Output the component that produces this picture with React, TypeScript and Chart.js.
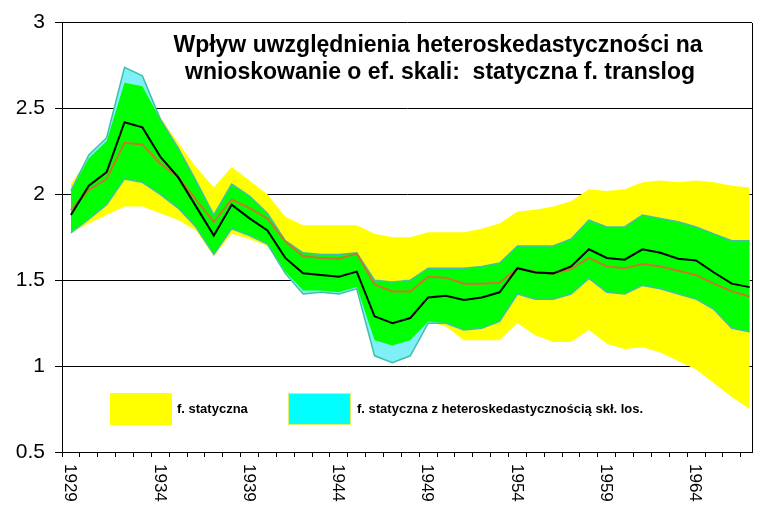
import React, { useEffect, useRef } from 'react';
import { Chart, registerables } from 'chart.js';

Chart.register(...registerables);

const years = [
  1929, 1930, 1931, 1932, 1933, 1934, 1935, 1936, 1937, 1938,
  1939, 1940, 1941, 1942, 1943, 1944, 1945, 1946, 1947, 1948,
  1949, 1950, 1951, 1952, 1953, 1954, 1955, 1956, 1957, 1958,
  1959, 1960, 1961, 1962, 1963, 1964, 1965, 1966, 1967,
];

// f. statyczna — interval bounds
const yellowUpper = [
  2.06, 2.21, 2.31, 2.65, 2.63, 2.45, 2.30, 2.16, 2.04, 2.16,
  2.08, 2.00, 1.87, 1.82, 1.82, 1.82, 1.82, 1.77, 1.75, 1.75,
  1.78, 1.78, 1.78, 1.80, 1.83, 1.90, 1.91, 1.93, 1.96, 2.03,
  2.02, 2.03, 2.07, 2.08, 2.07, 2.08, 2.07, 2.05, 2.04,
];
const yellowLower = [
  1.78, 1.83, 1.88, 1.93, 1.93, 1.89, 1.85, 1.79, 1.64, 1.77,
  1.74, 1.70, 1.55, 1.44, 1.44, 1.43, 1.46, 1.15, 1.12, 1.15,
  1.26, 1.23, 1.15, 1.15, 1.15, 1.25, 1.18, 1.14, 1.14, 1.21,
  1.13, 1.10, 1.11, 1.08, 1.03, 0.98, 0.90, 0.82, 0.75,
];

// f. statyczna z heteroskedastycznością — interval bounds
const cyanUpper = [
  2.02, 2.23, 2.33, 2.74, 2.69, 2.44, 2.27, 2.08, 1.88, 2.06,
  1.99, 1.89, 1.73, 1.66, 1.65, 1.65, 1.66, 1.50, 1.49, 1.50,
  1.57, 1.57, 1.57, 1.58, 1.60, 1.70, 1.70, 1.70, 1.74, 1.85,
  1.81, 1.81, 1.88, 1.86, 1.84, 1.81, 1.77, 1.73, 1.73,
];
const cyanLower = [
  1.775, 1.855, 1.94, 2.09, 2.07, 2.00, 1.92, 1.81, 1.65, 1.80,
  1.76, 1.71, 1.54, 1.42, 1.43, 1.42, 1.45, 1.06, 1.02, 1.06,
  1.25, 1.25, 1.21, 1.22, 1.26, 1.42, 1.39, 1.39, 1.42, 1.51,
  1.43, 1.42, 1.47, 1.45, 1.42, 1.39, 1.33, 1.22, 1.20,
];

// point estimates
const blackLine = [
  1.88, 2.05, 2.13, 2.42, 2.39, 2.22, 2.10, 1.93, 1.76, 1.94,
  1.86, 1.79, 1.63, 1.54, 1.53, 1.52, 1.55, 1.29, 1.25, 1.28,
  1.40, 1.41, 1.385, 1.40, 1.43, 1.57, 1.545, 1.54, 1.58, 1.68,
  1.63, 1.62, 1.68, 1.66, 1.625, 1.615, 1.545, 1.48, 1.46,
];
const orangeLine = [
  1.91, 2.025, 2.09, 2.30, 2.29, 2.18, 2.10, 1.97, 1.84, 1.97,
  1.92, 1.86, 1.725, 1.64, 1.63, 1.625, 1.655, 1.475, 1.435, 1.435,
  1.52, 1.515, 1.48, 1.48, 1.485, 1.57, 1.55, 1.54, 1.565, 1.63,
  1.58, 1.57, 1.595, 1.58, 1.555, 1.53, 1.48, 1.435, 1.405,
];

const xTickLabels = ['1929', '1934', '1939', '1944', '1949', '1954', '1959', '1964'];
const titleLines = [
  'Wpływ uwzględnienia heteroskedastyczności na',
  'wnioskowanie o ef. skali:  statyczna f. translog',
];
const legendLabels = ['f. statyczna', 'f. statyczna z heteroskedastycznością skł. los.'];

const FONT = 'Arial, "Liberation Sans", sans-serif';
const YELLOW = '#FFFF00';
const CYAN_FILL = '#80F0F8';
const CYAN_LEGEND = '#00FFFF';
const GREEN = '#00FF00';
const TEAL = '#40C0A8';

const pts = (arr: number[]) => years.map((yr, i) => ({ x: yr, y: arr[i] }));

const overlayPlugin = {
  id: 'overlay',
  afterDraw(chart: any) {
    const { ctx, chartArea, scales } = chart;
    ctx.save();
    // right border of plot
    ctx.strokeStyle = '#000';
    ctx.lineWidth = 1;
    const rx = Math.round(chartArea.right) + 0.5;
    ctx.beginPath();
    ctx.moveTo(rx, Math.round(chartArea.top));
    ctx.lineTo(rx, Math.round(chartArea.bottom) + 1);
    ctx.stroke();

    // x labels rotated clockwise
    ctx.fillStyle = '#000';
    ctx.font = `17px ${FONT}`;
    ctx.textAlign = 'left';
    ctx.textBaseline = 'middle';
    xTickLabels.forEach((lbl) => {
      const px = scales.x.getPixelForValue(Number(lbl)) - 1;
      ctx.save();
      ctx.translate(px, chartArea.bottom + 12);
      ctx.rotate(Math.PI / 2);
      ctx.fillText(lbl, 0, 0);
      ctx.restore();
    });

    // title
    ctx.font = `bold 23px ${FONT}`;
    ctx.textAlign = 'center';
    ctx.textBaseline = 'alphabetic';
    ctx.fillText(titleLines[0], 438, 52);
    ctx.fillText(titleLines[1], 440, 79);

    // legend
    ctx.fillStyle = YELLOW;
    ctx.fillRect(110, 393, 62, 32);
    ctx.fillStyle = CYAN_LEGEND;
    ctx.fillRect(289, 394, 61, 30);
    ctx.strokeStyle = '#E0F060';
    ctx.lineWidth = 1;
    ctx.strokeRect(288.5, 393.5, 62, 31);
    ctx.fillStyle = '#000';
    ctx.font = `bold 13px ${FONT}`;
    ctx.textAlign = 'left';
    ctx.textBaseline = 'middle';
    ctx.fillText(legendLabels[0], 177, 409);
    ctx.fillText(legendLabels[1], 357, 409);
    ctx.restore();
  },
};

export default function App() {
  const ref = useRef<HTMLCanvasElement | null>(null);

  useEffect(() => {
    if (!ref.current) return;
    const overlapUpper = years.map((_, i) => Math.min(yellowUpper[i], cyanUpper[i]));
    const overlapLower = years.map((_, i) => Math.max(yellowLower[i], cyanLower[i]));
    const hidden = { borderWidth: 0, borderColor: 'rgba(0,0,0,0)', pointRadius: 0 };

    const chart = new Chart(ref.current, {
      type: 'line',
      data: {
        datasets: [
          { data: pts(blackLine), borderColor: '#000000', borderWidth: 2, pointRadius: 0, fill: false },
          { data: pts(orangeLine), borderColor: '#C8782A', borderWidth: 2, pointRadius: 0, fill: false },
          { data: pts(cyanUpper), borderColor: TEAL, borderWidth: 1.5, pointRadius: 0, fill: false },
          { data: pts(cyanLower), borderColor: TEAL, borderWidth: 1.5, pointRadius: 0, fill: false },
          { data: pts(overlapUpper), ...hidden, fill: { target: 5 }, backgroundColor: GREEN },
          { data: pts(overlapLower), ...hidden, fill: false },
          { data: pts(cyanUpper), ...hidden, fill: { target: 7 }, backgroundColor: CYAN_FILL },
          { data: pts(cyanLower), ...hidden, fill: false },
          { data: pts(yellowUpper), ...hidden, fill: { target: 9 }, backgroundColor: YELLOW },
          { data: pts(yellowLower), ...hidden, fill: false },
        ] as any,
      },
      options: {
        responsive: false,
        animation: false,
        layout: { padding: { top: 22, right: 13, left: 0, bottom: 0 } },
        elements: { line: { tension: 0 }, point: { radius: 0 } },
        plugins: {
          legend: { display: false },
          tooltip: { enabled: false },
          title: { display: false },
          filler: { drawTime: 'beforeDatasetDraw' },
        } as any,
        scales: {
          x: {
            type: 'linear',
            min: 1928.5,
            max: 1967.13,
            afterBuildTicks: (s: any) => {
              const t = [];
              for (let v = 1928.5; v <= 1967.13; v += 1) t.push({ value: v });
              s.ticks = t;
            },
            afterFit: (s: any) => {
              s.height = 78;
            },
            ticks: { display: false },
            grid: { drawOnChartArea: false, drawTicks: true, tickLength: 5, color: '#000' },
            border: { color: '#000', width: 1 },
          },
          y: {
            min: 0.5,
            max: 3,
            afterFit: (s: any) => {
              s.width = 62;
            },
            ticks: {
              stepSize: 0.5,
              color: '#000',
              padding: 10,
              font: { family: FONT, size: 21 },
              callback: (v: any) => String(Math.round(Number(v) * 10) / 10),
            },
            grid: { color: '#000', tickLength: 7, lineWidth: 1 },
            border: { color: '#000', width: 1 },
          },
        } as any,
      },
      plugins: [overlayPlugin],
    });
    return () => chart.destroy();
  }, []);

  return (
    <div style={{ position: 'fixed', left: 0, top: 0, width: 765, height: 530, background: '#fff' }}>
      <canvas ref={ref} width={765} height={530} style={{ width: 765, height: 530, display: 'block' }} />
    </div>
  );
}
